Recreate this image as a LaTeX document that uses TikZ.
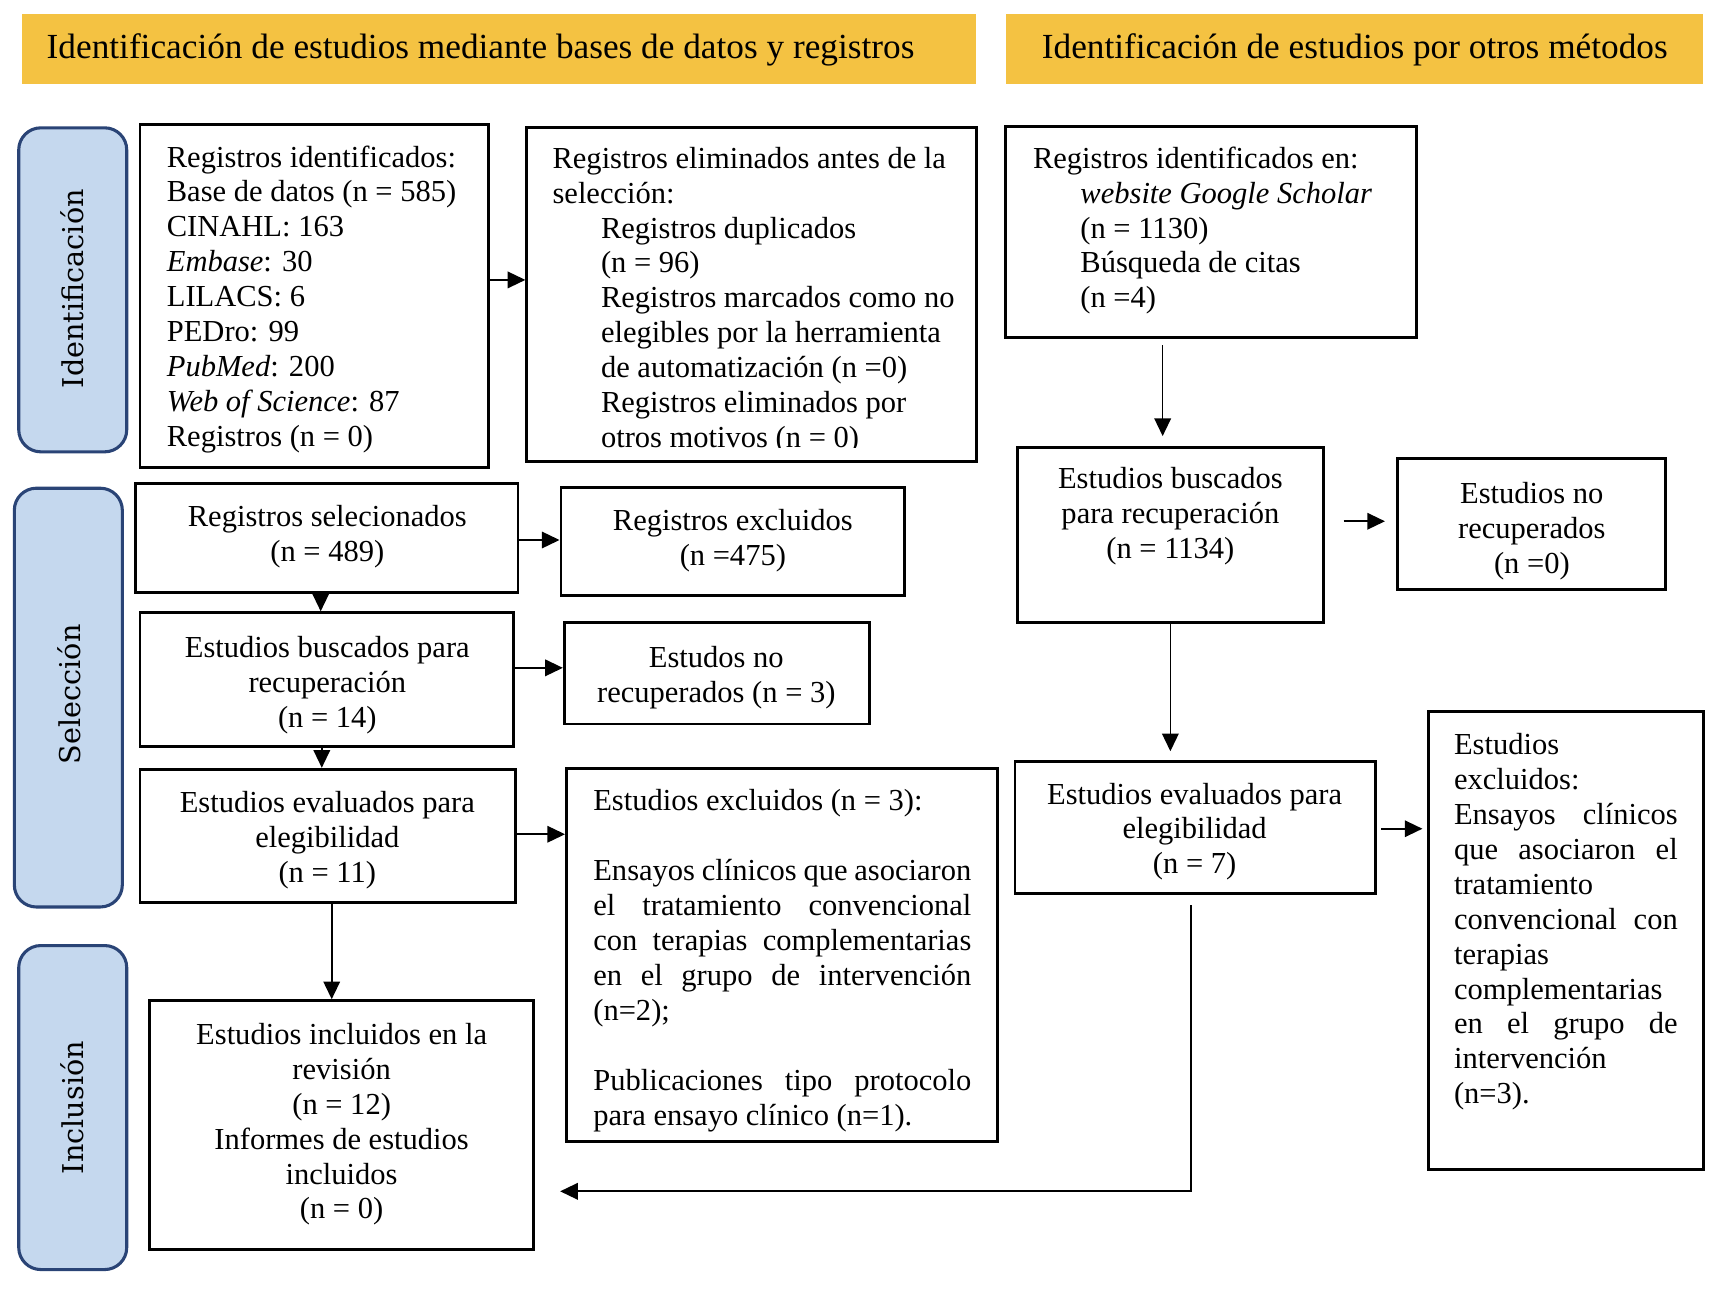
\documentclass[tikz,border=0pt]{standalone}
\usepackage{fontspec}
\setmainfont{Liberation Serif}
\newfontfamily\sidefont{DejaVu Serif}
\usetikzlibrary{arrows.meta,fit}
\definecolor{hdryellow}{RGB}{244,194,66}
\definecolor{sidefill}{RGB}{197,216,238}
\definecolor{sidedraw}{RGB}{42,68,118}
\begin{document}
\begin{tikzpicture}[x=0.5pt,y=-0.5pt,
  box/.style={draw, line width=1.3pt, inner sep=0pt},
  hdr/.style={fill=hdryellow, inner sep=0pt},
  side/.style={draw=sidedraw, fill=sidefill, line width=1.4pt, rounded corners=10pt, inner sep=0pt},
  sidetxt/.style={rotate=90, inner sep=0pt, font=\sidefont\fontsize{13}{15}\selectfont},
  txt/.style={inner sep=0pt, font=\fontsize{13.85}{15.85}\selectfont, align=left, anchor=north west},
  ctxt/.style={inner sep=0pt, font=\fontsize{13.85}{15.85}\selectfont, align=center, anchor=north},
  hdrtxt/.style={inner sep=0pt, font=\fontsize{16}{18}\selectfont, anchor=base west},
  arr/.style={line width=0.75pt, -{Triangle[length=8pt,width=7.5pt]}},
]
\useasboundingbox (0,0) rectangle (1568,1172);

% headers
\node[hdr, fit={(20,13) (886,76)}] (H1) {};
\node[hdrtxt] (H1txt) at (42,53) {Identificación de estudios mediante bases de datos y registros};
\node[hdr, fit={(913,13) (1545,76)}] (H2) {};
\node[hdrtxt] (H2txt) at (945,53) {Identificación de estudios por otros métodos};

% side labels
\node[side, fit={(17,116) (115,410)}] (S1) {};
\node[sidetxt] (S1txt) at (66,262) {Identificación};
\node[side, fit={(13,443) (111,823)}] (S2) {};
\node[sidetxt] (S2txt) at (63,630) {Selección};
\node[side, fit={(17,858) (115,1152)}] (S3) {};
\node[sidetxt] (S3txt) at (66,1005) {Inclusión};

% boxes
\node[box, fit={(127,113) (443,424)}] (A) {};
\node[box, fit={(478,116) (886,419)}] (B) {};
\node[box, fit={(912,115) (1285,306)}] (C) {};
\node[box, fit={(923,406) (1201,565)}] (D) {};
\node[box, fit={(1268,416) (1511,535)}] (E) {};
\node[box, fit={(921,691) (1248,811)}] (F) {};
\node[box, fit={(1296,646) (1546,1061)}] (G) {};
\node[box, fit={(123,439) (470,538)}] (H) {};
\node[box, fit={(509,442) (821,540)}] (I) {};
\node[box, fit={(127,556) (466,677)}] (J) {};
\node[box, fit={(512,565) (789,657)}] (K) {};
\node[box, fit={(127,698) (468,819)}] (L) {};
\node[box, fit={(514,697) (905,1036)}] (M) {};
\node[box, fit={(136,908) (484,1134)}] (N) {};

% texts
\node[txt] (Atxt) at (151,129) {\strut Registros identificados:\\ Base de datos (n = 585)\\ CINAHL: 163\\ \textit{Embase}: 30\\ LILACS: 6\\ PEDro: 99\\ \textit{PubMed}: 200\\ \textit{Web of Science}: 87\\ Registros (n = 0)};

\begin{scope}
\clip (478,116) rectangle (886,406);
\node[txt] (Btxt) at (501,130) {\strut Registros eliminados antes de la\\ selección:\\
\hspace*{22pt}Registros duplicados\\
\hspace*{22pt}(n = 96)\\
\hspace*{22pt}Registros marcados como no\\
\hspace*{22pt}elegibles por la herramienta\\
\hspace*{22pt}de automatización (n =0)\\
\hspace*{22pt}Registros eliminados por\\
\hspace*{22pt}otros motivos (n = 0)};
\end{scope}

\node[txt] (Ctxt) at (937,130) {\strut Registros identificados en:\\
\hspace*{21.5pt}\textit{website Google Scholar}\\
\hspace*{21.5pt}(n = 1130)\\
\hspace*{21.5pt}Búsqueda de citas\\
\hspace*{21.5pt}(n =4)};

\node[ctxt] (Dtxt) at (1062,421) {\strut Estudios buscados\\ para recuperación\\ (n = 1134)};
\node[ctxt] (Etxt) at (1390,434) {\strut Estudios no\\ recuperados\\ (n =0)};
\node[ctxt] (Ftxt) at (1084,707) {\strut Estudios evaluados para\\ elegibilidad\\ (n = 7)};
\node[txt] (Gtxt) at (1319,662) {\strut Estudios\\ excluidos:\\
\makebox[101.5pt][s]{Ensayos clínicos}\\
\makebox[101.5pt][s]{que asociaron el}\\
tratamiento\\
\makebox[101.5pt][s]{convencional con}\\
terapias\\
complementarias\\
\makebox[101.5pt][s]{en el grupo de}\\
intervención\\
(n=3).};

\node[ctxt] (Htxt) at (297,455) {\strut Registros selecionados\\ (n = 489)};
\node[ctxt] (Itxt) at (665,459) {\strut Registros excluidos\\ (n =475)};
\node[ctxt] (Jtxt) at (297,574) {\strut Estudios buscados para\\ recuperación\\ (n = 14)};
\node[ctxt] (Ktxt) at (650,583) {\strut Estudos no\\ recuperados (n = 3)};
\node[ctxt] (Ltxt) at (297,715) {\strut Estudios evaluados para\\ elegibilidad\\ (n = 11)};
\node[txt] (Mtxt) at (538,713) {\strut Estudios excluidos (n = 3):\\ \mbox{}\\
\makebox[171.5pt][s]{Ensayos clínicos que asociaron}\\
\makebox[171.5pt][s]{el tratamiento convencional}\\
\makebox[171.5pt][s]{con terapias complementarias}\\
\makebox[171.5pt][s]{en el grupo de intervención}\\
(n=2);\\ \mbox{}\\
\makebox[171.5pt][s]{Publicaciones tipo protocolo}\\
para ensayo clínico (n=1).};
\node[ctxt] (Ntxt) at (310,925) {\strut Estudios incluidos en la\\ revisión\\ (n = 12)\\ Informes de estudios\\ incluidos\\ (n = 0)};

% arrows
\draw[arr] (A.east |- 0,254) -- (B.west |- 0,254);
\draw[arr] (H.east |- 0,490) -- (I.west |- 0,490);
\draw[arr] (H.south -| 291,0) -- (J.north -| 291,0);
\draw[arr] (J.east |- 0,606) -- (K.west |- 0,606);
\draw[arr] (J.south -| 292,0) -- (L.north -| 292,0);
\draw[arr] (L.east |- 0,757) -- (M.west |- 0,757);
\draw[arr] (L.south -| 301,0) -- (N.north -| 301,0);
\draw[arr, shorten <=3pt, shorten >=4.5pt] (C.south -| 1055,0) -- (D.north -| 1055,0);
\draw[arr, shorten <=8.5pt, shorten >=5pt] (D.east |- 0,473) -- (E.west |- 0,473);
\draw[arr, shorten >=4pt] (D.south -| 1062,0) -- (F.north -| 1062,0);
\draw[arr, shorten <=2pt, shorten >=2pt] (F.east |- 0,752) -- (G.west |- 0,752);
\coordinate (bend) at (1081,1081);
\draw[arr, shorten <=4.5pt, shorten >=11.5pt] (F.south -| bend) -- (bend) -- (N.east |- bend);
\end{tikzpicture}
\end{document}
